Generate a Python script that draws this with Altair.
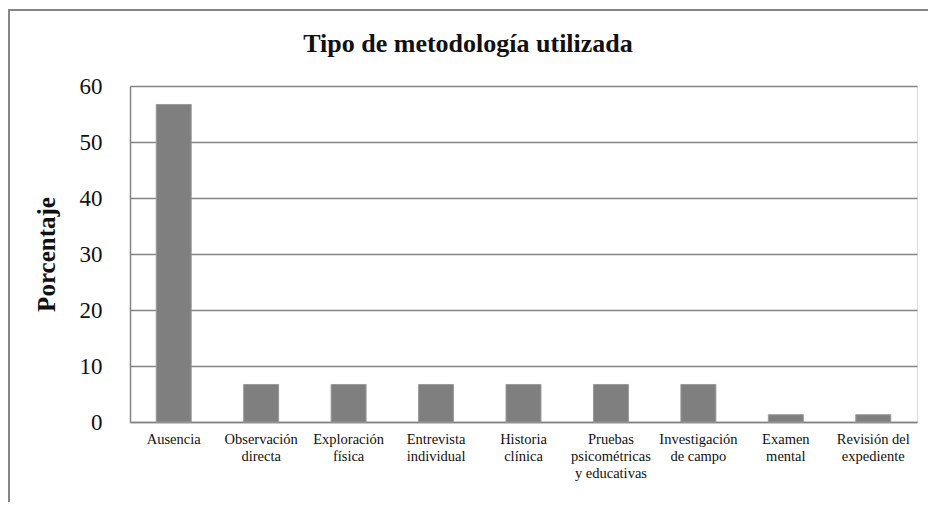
import altair as alt
import pandas as pd

categories = [
    "Ausencia",
    "Observación\ndirecta",
    "Exploración\nfísica",
    "Entrevista\nindividual",
    "Historia\nclínica",
    "Pruebas\npsicométricas\ny educativas",
    "Investigación\nde campo",
    "Examen\nmental",
    "Revisión del\nexpediente",
]
values = [56.7, 6.7, 6.7, 6.7, 6.7, 6.7, 6.7, 1.3, 1.3]
title_text = ["Tipo de metodología utilizada"]

df = pd.DataFrame({"cat": categories, "pct": values})

SERIF = "Liberation Serif"

xscale = alt.Scale(domain=categories, paddingInner=0.6, paddingOuter=0.3)

bars = alt.Chart(df).mark_bar(color="#7f7f7f", stroke="#9a9a9a", strokeWidth=1).encode(
    x=alt.X(
        "cat:N",
        sort=categories,
        scale=xscale,
        axis=alt.Axis(
            title=None,
            labels=False,
            ticks=False,
            domainColor="#858585",
            domainWidth=1.5,
            grid=False,
        ),
    ),
    y=alt.Y(
        "pct:Q",
        scale=alt.Scale(domain=[0, 60]),
        axis=alt.Axis(
            title="Porcentaje",
            titleFont=SERIF,
            titleFontSize=25,
            titleFontWeight="bold",
            titleColor="#111",
            titlePadding=20,
            values=[0, 10, 20, 30, 40, 50, 60],
            labelFont=SERIF,
            labelFontSize=23,
            labelColor="#111",
            labelPadding=28,
            ticks=False,
            domainColor="#858585",
            domainWidth=1.5,
            gridColor="#858585",
            gridWidth=1.5,
        ),
    ),
)

xlabels = alt.Chart(df).mark_text(
    font=SERIF, fontSize=14.5, color="#111", align="center", baseline="top", lineBreak="\n", lineHeight=17
).encode(
    x=alt.X("cat:N", sort=categories, scale=xscale),
    y=alt.value(347),
    text="cat:N",
)

frame = alt.Chart(df).mark_rect(fill=None, stroke="#858585", strokeWidth=1.5, clip=False).encode(
    x=alt.value(-121), x2=alt.value(900), y=alt.value(-76), y2=alt.value(600)
)

title = alt.Chart(pd.DataFrame({"t": title_text})).mark_text(
    font=SERIF, fontSize=26, fontWeight="bold", color="#111", align="center", baseline="alphabetic"
).encode(text="t:N", x=alt.value(338), y=alt.value(-34))

chart = alt.layer(frame, title, bars, xlabels).properties(
    width=787,
    height=336,
    autosize=alt.AutoSizeParams(type="none"),
    padding={"left": 122, "top": 78, "right": 11, "bottom": 80},
).configure_view(stroke=None).configure(background="white").configure_axis(
    labelFont=SERIF, titleFont=SERIF
).configure_text(font=SERIF)

chart.save("out.html", embed_options={"renderer": "svg", "actions": False})
